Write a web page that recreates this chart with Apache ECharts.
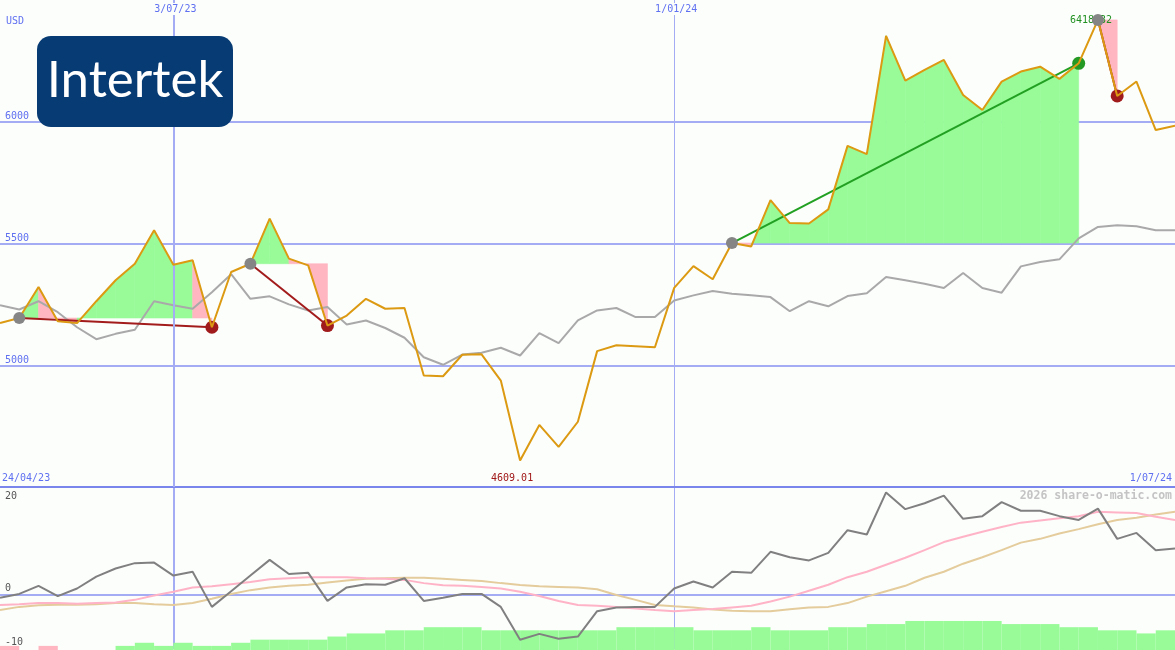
<!DOCTYPE html>
<html><head><meta charset="utf-8">
<script src="https://cdn.jsdelivr.net/npm/echarts@6/dist/echarts.min.js"></script>
<style>html,body{margin:0;padding:0;background:#fcfefc;}#c{width:1175px;height:650px;}</style>
</head><body><div id="c"></div>
<script>
// ---------- data ----------
const dates = ['1/05/23','8/05/23','15/05/23','22/05/23','29/05/23','5/06/23','12/06/23','19/06/23','26/06/23','3/07/23',
'10/07/23','17/07/23','24/07/23','31/07/23','7/08/23','14/08/23','21/08/23','28/08/23','4/09/23','11/09/23',
'18/09/23','25/09/23','2/10/23','9/10/23','16/10/23','23/10/23','30/10/23','6/11/23','13/11/23','20/11/23',
'27/11/23','4/12/23','11/12/23','18/12/23','25/12/23','1/01/24','8/01/24','15/01/24','22/01/24','29/01/24',
'5/02/24','12/02/24','19/02/24','26/02/24','4/03/24','11/03/24','18/03/24','25/03/24','1/04/24','8/04/24',
'15/04/24','22/04/24','29/04/24','6/05/24','13/05/24','20/05/24','27/05/24','3/06/24','10/06/24','17/06/24',
'24/06/24','1/07/24'];
const price = [5173,5194,5321,5181,5173,5263,5349,5417,5554,5413,
5431,5156,5383,5417,5602,5438,5410,5163,5204,5273,
5232,5235,4958,4955,5043,5045,4937,4609.01,4755,4665,
4768,5058,5082,5078,5074,5318,5407,5353,5502,5488,
5678,5584,5582,5640,5901,5867,6353,6169,6213,6254,
6110,6048,6165,6206,6226,6176,6240,6418.32,6106,6165,
5966,5984];
const avg = [5246,5229,5263,5218,5156,5107,5129,5146,5263,5246,
5232,5300,5374,5273,5283,5250,5225,5239,5167,5184,
5153,5113,5033,5002,5044,5051,5072,5040,5132,5091,
5184,5225,5235,5198,5198,5266,5287,5305,5294,5287,
5280,5222,5263,5242,5284,5296,5362,5349,5335,5317,
5379,5317,5298,5406,5424,5435,5521,5568,5575,5571,
5554,5554];
const oscMain = [-0.5,0.2,1.7,-0.2,1.2,3.4,4.9,5.9,6.0,3.6,
4.3,-2.2,0.7,3.6,6.5,3.9,4.1,-1.1,1.4,2.0,
1.9,3.1,-1.1,-0.5,0.2,0.2,-2.2,-8.3,-7.2,-8.1,
-7.7,-3.0,-2.3,-2.2,-2.2,1.2,2.5,1.4,4.3,4.1,
8.0,7.0,6.4,7.8,12.0,11.2,19.0,15.9,17.0,18.4,
14.1,14.6,17.2,15.6,15.6,14.6,13.9,16.0,10.4,11.5,
8.3,8.6];
const oscPink = [-1.85,-1.7,-1.5,-1.5,-1.6,-1.5,-1.4,-0.9,-0.1,0.6,
1.4,1.6,2.0,2.4,2.9,3.1,3.3,3.3,3.3,3.1,
3.0,2.8,2.2,1.8,1.7,1.5,1.2,0.6,-0.2,-1.1,
-1.85,-2.0,-2.2,-2.5,-2.8,-3.0,-2.8,-2.6,-2.3,-2.0,
-1.2,-0.3,0.8,1.9,3.3,4.3,5.6,6.9,8.3,9.8,
10.8,11.7,12.6,13.4,13.8,14.2,14.6,15.4,15.3,15.2,
14.5,13.9];
const oscTan = [-2.8,-2.2,-1.9,-1.8,-1.8,-1.7,-1.5,-1.5,-1.7,-1.85,
-1.5,-0.7,0.2,0.9,1.4,1.7,1.9,2.3,2.7,3.0,
3.1,3.2,3.2,3.0,2.8,2.6,2.2,1.85,1.6,1.5,
1.4,1.05,0,-0.9,-1.85,-2.1,-2.3,-2.7,-2.9,-3.0,
-3.0,-2.65,-2.3,-2.2,-1.5,-0.3,0.7,1.7,3.2,4.3,
5.8,7.0,8.3,9.7,10.4,11.4,12.2,13.1,13.9,14.3,
14.9,15.4];
// histogram level for each week interval (positive green, negative pink)
const histLevels = [-1,0,-1,0,0,0,1,2,1,2,
1,1,2,3,3,3,3,4,5,5,
6,6,7,7,7,6,6,6,6,6,
6,6,7,7,7,7,6,6,6,7,
6,6,6,7,7,8,8,9,9,9,
9,9,8,8,8,7,7,6,6,5,
6];
const entryIdx = [1,13,38,57];
const exitIdx = [11,17,56,58];
const dateTicks = ['3/07/23','1/01/24'];
const rangeLabels = ['24/04/23','1/07/24'];
const brand = 'Intertek';
const currency = 'USD';
const watermark = '2026 share-o-matic.com';

// ---------- styling ----------
const BG = '#fcfefc', BLUE = '#5f70f0', GRID = '#a4acf4', SEP = '#7a86ec', FONT = 'DejaVu Sans Mono';
const GREEN_FILL = '#98fb98', PINK_FILL = '#ffb6c1';

const fillData = [];
entryIdx.forEach((e, t) => {
  const lvl = price[e];
  for (let k = e; k < exitIdx[t]; k++) fillData.push([k, price[k], price[k + 1], lvl, price[k + 1] > lvl ? 1 : 0]);
});

function renderFill(params, api) {
  const k = api.value(0), p0 = api.value(1), p1 = api.value(2), lvl = api.value(3), up = api.value(4);
  const a = api.coord([k, p0]), b = api.coord([k + 1, p1]), c = api.coord([k + 1, lvl]), d = api.coord([k, lvl]);
  const col = up ? GREEN_FILL : PINK_FILL;
  return { type: 'polygon', shape: { points: [a, b, c, d] }, style: { fill: col, stroke: col, lineWidth: 0.6 } };
}
function renderBar(params, api) {
  const k = api.value(0), v = api.value(1);
  if (!v) return null;
  const a = api.coord([k, Math.abs(v)]), b = api.coord([k + 1, 0]);
  return { type: 'rect', shape: { x: a[0], y: a[1], width: b[0] - a[0], height: b[1] - a[1] + 2 },
    style: { fill: v > 0 ? GREEN_FILL : PINK_FILL } };
}

function catAxis(gridIndex, position, lineDate, width, labels) {
  return {
    type: 'category', gridIndex, data: dates, boundaryGap: false, position, z: labels ? 5 : 0,
    axisLine: { show: false }, axisTick: { show: false },
    axisLabel: labels ? { show: true, inside: true, margin: 3, interval: (i, v) => dateTicks.includes(v),
      color: BLUE, fontFamily: FONT, fontSize: 10, backgroundColor: BG, padding: [1, 1, 1, 5] } : { show: false },
    splitLine: { show: true, interval: (i, v) => v === lineDate, lineStyle: { color: GRID, width } }
  };
}

const xAxes = [
  catAxis(0, 'top', dateTicks[0], 2, true),
  catAxis(0, 'bottom', dateTicks[1], 1, false),
  catAxis(1, 'top', dateTicks[0], 2, false),
  catAxis(1, 'bottom', dateTicks[1], 1, false)
];
xAxes[2].axisLine = { show: true, onZero: false, lineStyle: { color: SEP, width: 2 } };

const series = [
  { type: 'custom', xAxisIndex: 0, yAxisIndex: 0, z: 1, silent: true, renderItem: renderFill,
    data: fillData, encode: { x: 0, y: 1 } },
  { type: 'line', xAxisIndex: 0, yAxisIndex: 0, z: 2, data: avg, showSymbol: false, silent: true,
    lineStyle: { color: '#a9a9a9', width: 2 } }
];
entryIdx.forEach((e, t) => {
  const x = exitIdx[t];
  const win = price[x] > price[e];
  series.push({ type: 'line', xAxisIndex: 0, yAxisIndex: 0, z: 3, silent: true, showSymbol: false,
    data: [[e, price[e]], [x, price[x]]], lineStyle: { color: win ? '#22a022' : '#a31c1c', width: 2 } });
});
series.push({ type: 'scatter', xAxisIndex: 0, yAxisIndex: 0, z: 4, symbolSize: 13, silent: true,
  data: exitIdx.map((x, t) => ({ value: [x, price[x]],
    itemStyle: { opacity: 1, color: price[x] > price[entryIdx[t]] ? '#249a24' : '#a01c1c' } })) });
series.push({ type: 'line', xAxisIndex: 0, yAxisIndex: 0, z: 5, data: price, showSymbol: false, silent: true,
  lineStyle: { color: '#dc9a12', width: 2 },
  markPoint: { silent: true, symbol: 'circle', symbolSize: 0,
    data: [
      { type: 'min', label: { show: true, position: 'inside', offset: [-8, 18], color: '#a01818',
        fontFamily: FONT, fontSize: 10, formatter: p => p.value.toFixed(2) } },
      { type: 'max', label: { show: true, position: 'inside', offset: [-7, 1], color: '#209020',
        fontFamily: FONT, fontSize: 10, formatter: p => p.value.toFixed(2) } }
    ] } });
series.push({ type: 'scatter', xAxisIndex: 0, yAxisIndex: 0, z: 6, symbolSize: 12, silent: true,
  itemStyle: { color: '#858585', opacity: 1 }, data: entryIdx.map(e => [e, price[e]]) });
// lower panel
series.push({ type: 'custom', xAxisIndex: 2, yAxisIndex: 2, z: 1, silent: true, renderItem: renderBar,
  data: histLevels.map((v, k) => [k, v]), encode: { x: 0, y: 1 } });
series.push({ type: 'line', xAxisIndex: 2, yAxisIndex: 1, z: 2, data: oscTan, showSymbol: false, silent: true,
  lineStyle: { color: '#e4cc9c', width: 2 } });
series.push({ type: 'line', xAxisIndex: 2, yAxisIndex: 1, z: 3, data: oscPink, showSymbol: false, silent: true,
  lineStyle: { color: '#ffb3c6', width: 2 } });
series.push({ type: 'line', xAxisIndex: 2, yAxisIndex: 1, z: 4, data: oscMain, showSymbol: false, silent: true,
  lineStyle: { color: '#808080', width: 2 } });

const option = {
  backgroundColor: BG,
  animation: false,
  grid: [
    { left: 0, right: 0, top: 0, height: 487 },
    { left: 0, right: 0, top: 487, height: 162 }
  ],
  xAxis: xAxes,
  yAxis: [
    { type: 'value', gridIndex: 0, min: 4500, max: 6500, interval: 500,
      axisLine: { show: false }, axisTick: { show: false },
      axisLabel: { inside: true, margin: 5, verticalAlign: 'bottom', showMinLabel: false, showMaxLabel: false,
        color: BLUE, fontFamily: FONT, fontSize: 10, formatter: v => String(v) },
      splitLine: { show: true, lineStyle: { color: ['transparent', GRID, GRID, GRID, 'transparent'], width: 2 } } },
    { type: 'value', gridIndex: 1, min: -10, max: 20, interval: 10,
      axisLine: { show: false }, axisTick: { show: false },
      axisLabel: { inside: true, margin: 5, color: '#555', fontFamily: FONT, fontSize: 10,
        formatter: v => v === 20 ? '{dn|20}' : (v === 10 ? '' : '{up|' + v + '}'),
        rich: { up: { padding: [0, 0, 14, 0], color: '#555', fontFamily: FONT, fontSize: 10 },
                dn: { padding: [18, 0, 0, 0], color: '#555', fontFamily: FONT, fontSize: 10 } } },
      splitLine: { show: true, lineStyle: { color: ['transparent', GRID, 'transparent', 'transparent'], width: 2 } } },
    { type: 'value', gridIndex: 1, min: 0, max: 52, show: false, splitLine: { show: false } }
  ],
  graphic: [
    { type: 'rect', z: 100, shape: { x: 37, y: 36, width: 196, height: 91, r: 14 }, style: { fill: '#073b73' } },
    { type: 'text', z: 101, x: 135, y: 81, style: { text: brand, fill: '#ffffff', font: '51px Lato',
      align: 'center', verticalAlign: 'middle' } },
    { type: 'text', z: 100, x: 6, y: 21, style: { text: currency, fill: BLUE, font: '10px "DejaVu Sans Mono"',
      align: 'left', verticalAlign: 'middle' } },
    { type: 'text', z: 100, x: 2, y: 478, style: { text: rangeLabels[0], fill: BLUE, font: '10px "DejaVu Sans Mono"',
      align: 'left', verticalAlign: 'middle' } },
    { type: 'text', z: 100, x: 1172, y: 478, style: { text: rangeLabels[1], fill: BLUE, font: '10px "DejaVu Sans Mono"',
      align: 'right', verticalAlign: 'middle' } },
    { type: 'text', z: 100, x: 1172, y: 496, style: { text: watermark, fill: '#c4c4c4', font: 'bold 11.5px "DejaVu Sans Mono"',
      align: 'right', verticalAlign: 'middle' } }
  ],
  series
};
const chart = echarts.init(document.getElementById('c'));
chart.setOption(option);
</script>
</body></html>
